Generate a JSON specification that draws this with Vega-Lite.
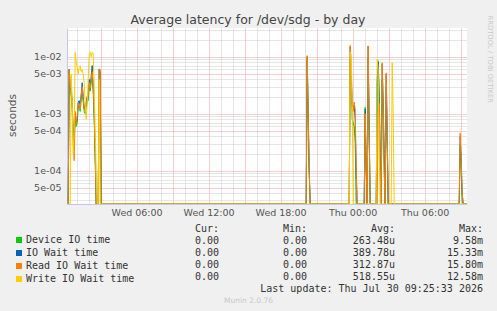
{
  "$schema": "https://vega.github.io/schema/vega-lite/v6.json",
  "width": 400,
  "height": 176,
  "autosize": "none",
  "padding": {"left": 67, "top": 28, "right": 30, "bottom": 107},
  "background": "#f0f0f0",
  "config": {
    "view": {"fill": "#ffffff", "stroke": null},
    "font": "DejaVu Sans",
    "axis": {"labelFont": "DejaVu Sans", "titleFont": "DejaVu Sans"}
  },
  "title": {
    "text": "Average latency for /dev/sdg - by day",
    "fontSize": 12.5,
    "fontWeight": "normal",
    "color": "#444444",
    "anchor": "middle",
    "dx": -19,
    "dy": 17,
    "offset": 6
  },
  "layer": [
    {
      "data": {
        "values": [
          {"t": "2026-07-29T00:12:00Z", "dev": 0, "io": 0, "rd": 0, "wr": 0},
          {"t": "2026-07-29T00:18:00Z", "dev": 0, "io": 0, "rd": 0, "wr": 0},
          {"t": "2026-07-29T00:23:00Z", "dev": 0.006, "io": 0.006, "rd": 0.006, "wr": 0},
          {"t": "2026-07-29T00:28:00Z", "dev": 0.0025, "io": 0.0028, "rd": 0.003, "wr": 0},
          {"t": "2026-07-29T00:33:00Z", "dev": 0.002, "io": 0.0025, "rd": 0.0028, "wr": 0.005},
          {"t": "2026-07-29T00:38:00Z", "dev": 0.0012, "io": 0.0015, "rd": 0.0018, "wr": 0.0015},
          {"t": "2026-07-29T00:43:00Z", "dev": 0.0005, "io": 0.0004, "rd": 0.0003, "wr": 0.0002},
          {"t": "2026-07-29T00:48:00Z", "dev": 0.0004, "io": 0.0003, "rd": 0.00015, "wr": 0.0005},
          {"t": "2026-07-29T00:53:00Z", "dev": 0.0009, "io": 0.001, "rd": 0.0011, "wr": 0.012},
          {"t": "2026-07-29T00:58:00Z", "dev": 0.0006, "io": 0.0007, "rd": 0.00065, "wr": 0.008},
          {"t": "2026-07-29T01:03:00Z", "dev": 0.0007, "io": 0.0008, "rd": 0.0009, "wr": 0.0065},
          {"t": "2026-07-29T01:08:00Z", "dev": 0.0013, "io": 0.0016, "rd": 0.0015, "wr": 0.005},
          {"t": "2026-07-29T01:13:00Z", "dev": 0.0014, "io": 0.0017, "rd": 0.0015, "wr": 0.0065},
          {"t": "2026-07-29T01:18:00Z", "dev": 0.0011, "io": 0.0013, "rd": 0.0012, "wr": 0.007},
          {"t": "2026-07-29T01:23:00Z", "dev": 0.0018, "io": 0.0022, "rd": 0.0021, "wr": 0.0055},
          {"t": "2026-07-29T01:28:00Z", "dev": 0.0025, "io": 0.0035, "rd": 0.003, "wr": 0.006},
          {"t": "2026-07-29T01:33:00Z", "dev": 0.0016, "io": 0.002, "rd": 0.0018, "wr": 0.005},
          {"t": "2026-07-29T01:38:00Z", "dev": 0.0011, "io": 0.0013, "rd": 0.0012, "wr": 0.0035},
          {"t": "2026-07-29T01:43:00Z", "dev": 0.001, "io": 0.0012, "rd": 0.0011, "wr": 0.0015},
          {"t": "2026-07-29T01:48:00Z", "dev": 0.0013, "io": 0.0016, "rd": 0.0015, "wr": 0.0008},
          {"t": "2026-07-29T01:53:00Z", "dev": 0.0016, "io": 0.002, "rd": 0.0018, "wr": 0.0015},
          {"t": "2026-07-29T01:58:00Z", "dev": 0.0017, "io": 0.0022, "rd": 0.002, "wr": 0.004},
          {"t": "2026-07-29T02:03:00Z", "dev": 0.003, "io": 0.004, "rd": 0.0035, "wr": 0.011},
          {"t": "2026-07-29T02:08:00Z", "dev": 0.0025, "io": 0.003, "rd": 0.0028, "wr": 0.012},
          {"t": "2026-07-29T02:13:00Z", "dev": 0.0035, "io": 0.0045, "rd": 0.004, "wr": 0.01},
          {"t": "2026-07-29T02:18:00Z", "dev": 0.005, "io": 0.007, "rd": 0.0055, "wr": 0.012},
          {"t": "2026-07-29T02:23:00Z", "dev": 0.0025, "io": 0.003, "rd": 0.003, "wr": 0.0115},
          {"t": "2026-07-29T02:28:00Z", "dev": 0.0008, "io": 0.001, "rd": 0.001, "wr": 0.003},
          {"t": "2026-07-29T02:33:00Z", "dev": 0.00015, "io": 0.0002, "rd": 0.0002, "wr": 0.0005},
          {"t": "2026-07-29T02:38:00Z", "dev": 0, "io": 0, "rd": 0, "wr": 0.0001},
          {"t": "2026-07-29T02:43:00Z", "dev": 0, "io": 0, "rd": 0, "wr": 0},
          {"t": "2026-07-29T02:48:00Z", "dev": 0, "io": 0, "rd": 0, "wr": 0},
          {"t": "2026-07-29T02:53:00Z", "dev": 0.006, "io": 0.006, "rd": 0.006, "wr": 0.004},
          {"t": "2026-07-29T02:58:00Z", "dev": 0.005, "io": 0.0055, "rd": 0.006, "wr": 0},
          {"t": "2026-07-29T03:03:00Z", "dev": 0, "io": 0, "rd": 0, "wr": 0},
          {"t": "2026-07-29T20:08:00Z", "dev": 0, "io": 0, "rd": 0, "wr": 0},
          {"t": "2026-07-29T20:13:00Z", "dev": 0.009, "io": 0.01, "rd": 0.0105, "wr": 0},
          {"t": "2026-07-29T20:18:00Z", "dev": 0.0008, "io": 0.001, "rd": 0.001, "wr": 0},
          {"t": "2026-07-29T20:23:00Z", "dev": 0.0001, "io": 0.0001, "rd": 0.0001, "wr": 0},
          {"t": "2026-07-29T20:28:00Z", "dev": 0, "io": 0, "rd": 0, "wr": 0},
          {"t": "2026-07-29T23:43:00Z", "dev": 0, "io": 0, "rd": 0, "wr": 0},
          {"t": "2026-07-29T23:48:00Z", "dev": 0.009, "io": 0.015, "rd": 0.0158, "wr": 0.012},
          {"t": "2026-07-29T23:53:00Z", "dev": 0.005, "io": 0.006, "rd": 0.004, "wr": 0.011},
          {"t": "2026-07-29T23:58:00Z", "dev": 0.0008, "io": 0.0015, "rd": 0.0012, "wr": 0.0015},
          {"t": "2026-07-30T00:03:00Z", "dev": 0.0007, "io": 0.0013, "rd": 0.0011, "wr": 0},
          {"t": "2026-07-30T00:08:00Z", "dev": 0.0006, "io": 0.0014, "rd": 0.0016, "wr": 0},
          {"t": "2026-07-30T00:13:00Z", "dev": 0.0003, "io": 0.0008, "rd": 0.0012, "wr": 0},
          {"t": "2026-07-30T00:18:00Z", "dev": 0, "io": 0.0001, "rd": 0.0001, "wr": 0},
          {"t": "2026-07-30T00:23:00Z", "dev": 0, "io": 0, "rd": 0, "wr": 0},
          {"t": "2026-07-30T00:58:00Z", "dev": 0, "io": 0, "rd": 0, "wr": 0},
          {"t": "2026-07-30T01:03:00Z", "dev": 0.0013, "io": 0.0012, "rd": 0.001, "wr": 0},
          {"t": "2026-07-30T01:08:00Z", "dev": 0.0001, "io": 0.0001, "rd": 0.0001, "wr": 0},
          {"t": "2026-07-30T01:13:00Z", "dev": 0, "io": 0, "rd": 0, "wr": 0},
          {"t": "2026-07-30T01:18:00Z", "dev": 0.00958, "io": 0.01533, "rd": 0.0155, "wr": 0},
          {"t": "2026-07-30T01:23:00Z", "dev": 0.0005, "io": 0.0005, "rd": 0.0004, "wr": 0},
          {"t": "2026-07-30T01:28:00Z", "dev": 0, "io": 0, "rd": 0, "wr": 0},
          {"t": "2026-07-30T01:58:00Z", "dev": 0, "io": 0, "rd": 0, "wr": 0},
          {"t": "2026-07-30T02:03:00Z", "dev": 0.003, "io": 0.004, "rd": 0, "wr": 0.0091},
          {"t": "2026-07-30T02:08:00Z", "dev": 0.0085, "io": 0.008, "rd": 0.001, "wr": 0.006},
          {"t": "2026-07-30T02:13:00Z", "dev": 0.002, "io": 0.002, "rd": 0.0015, "wr": 0.0003},
          {"t": "2026-07-30T02:18:00Z", "dev": 0.0001, "io": 0.0002, "rd": 0.0001, "wr": 0},
          {"t": "2026-07-30T02:23:00Z", "dev": 0, "io": 0, "rd": 0, "wr": 0},
          {"t": "2026-07-30T02:28:00Z", "dev": 0.004, "io": 0.0075, "rd": 0.0079, "wr": 0},
          {"t": "2026-07-30T02:33:00Z", "dev": 0.001, "io": 0.0015, "rd": 0.0015, "wr": 0},
          {"t": "2026-07-30T02:38:00Z", "dev": 0.0001, "io": 0.0002, "rd": 0.0001, "wr": 0},
          {"t": "2026-07-30T02:43:00Z", "dev": 0, "io": 0, "rd": 0, "wr": 0},
          {"t": "2026-07-30T02:48:00Z", "dev": 0.003, "io": 0.005, "rd": 0.0052, "wr": 0},
          {"t": "2026-07-30T02:53:00Z", "dev": 0.0003, "io": 0.0005, "rd": 0.0005, "wr": 0},
          {"t": "2026-07-30T02:58:00Z", "dev": 0, "io": 0, "rd": 0, "wr": 0},
          {"t": "2026-07-30T03:13:00Z", "dev": 0, "io": 0, "rd": 0, "wr": 0},
          {"t": "2026-07-30T03:18:00Z", "dev": 0, "io": 0, "rd": 0, "wr": 0.0079},
          {"t": "2026-07-30T03:23:00Z", "dev": 0, "io": 0, "rd": 0, "wr": 0.001},
          {"t": "2026-07-30T03:28:00Z", "dev": 0, "io": 0, "rd": 0, "wr": 0},
          {"t": "2026-07-30T08:53:00Z", "dev": 0, "io": 0, "rd": 0, "wr": 0},
          {"t": "2026-07-30T08:58:00Z", "dev": 0.0003, "io": 0.0004, "rd": 0.00046, "wr": 0},
          {"t": "2026-07-30T09:03:00Z", "dev": 0.0001, "io": 0.00015, "rd": 0.00015, "wr": 0},
          {"t": "2026-07-30T09:08:00Z", "dev": 0.00003, "io": 0.00004, "rd": 0.00004, "wr": 0},
          {"t": "2026-07-30T09:13:00Z", "dev": 0, "io": 0, "rd": 0, "wr": 0},
          {"t": "2026-07-30T09:32:00Z", "dev": 0, "io": 0, "rd": 0, "wr": 0}
        ]
      },
      "transform": [{"fold": ["dev", "io", "rd", "wr"], "as": ["s", "v"]}],
      "mark": {"type": "line", "strokeWidth": 1, "invalid": null, "clip": true},
      "encoding": {
        "x": {
          "field": "t",
          "type": "temporal",
          "scale": {"type": "utc", "domain": [1785283920000, 1785403920000], "nice": false},
          "axis": {
            "values": [
              {"year": 2026, "month": 7, "date": 29, "hours": 1, "utc": true},
              {"year": 2026, "month": 7, "date": 29, "hours": 2, "utc": true},
              {"year": 2026, "month": 7, "date": 29, "hours": 3, "utc": true},
              {"year": 2026, "month": 7, "date": 29, "hours": 4, "utc": true},
              {"year": 2026, "month": 7, "date": 29, "hours": 5, "utc": true},
              {"year": 2026, "month": 7, "date": 29, "hours": 6, "utc": true},
              {"year": 2026, "month": 7, "date": 29, "hours": 7, "utc": true},
              {"year": 2026, "month": 7, "date": 29, "hours": 8, "utc": true},
              {"year": 2026, "month": 7, "date": 29, "hours": 9, "utc": true},
              {"year": 2026, "month": 7, "date": 29, "hours": 10, "utc": true},
              {"year": 2026, "month": 7, "date": 29, "hours": 11, "utc": true},
              {"year": 2026, "month": 7, "date": 29, "hours": 12, "utc": true},
              {"year": 2026, "month": 7, "date": 29, "hours": 13, "utc": true},
              {"year": 2026, "month": 7, "date": 29, "hours": 14, "utc": true},
              {"year": 2026, "month": 7, "date": 29, "hours": 15, "utc": true},
              {"year": 2026, "month": 7, "date": 29, "hours": 16, "utc": true},
              {"year": 2026, "month": 7, "date": 29, "hours": 17, "utc": true},
              {"year": 2026, "month": 7, "date": 29, "hours": 18, "utc": true},
              {"year": 2026, "month": 7, "date": 29, "hours": 19, "utc": true},
              {"year": 2026, "month": 7, "date": 29, "hours": 20, "utc": true},
              {"year": 2026, "month": 7, "date": 29, "hours": 21, "utc": true},
              {"year": 2026, "month": 7, "date": 29, "hours": 22, "utc": true},
              {"year": 2026, "month": 7, "date": 29, "hours": 23, "utc": true},
              {"year": 2026, "month": 7, "date": 30, "hours": 0, "utc": true},
              {"year": 2026, "month": 7, "date": 30, "hours": 1, "utc": true},
              {"year": 2026, "month": 7, "date": 30, "hours": 2, "utc": true},
              {"year": 2026, "month": 7, "date": 30, "hours": 3, "utc": true},
              {"year": 2026, "month": 7, "date": 30, "hours": 4, "utc": true},
              {"year": 2026, "month": 7, "date": 30, "hours": 5, "utc": true},
              {"year": 2026, "month": 7, "date": 30, "hours": 6, "utc": true},
              {"year": 2026, "month": 7, "date": 30, "hours": 7, "utc": true},
              {"year": 2026, "month": 7, "date": 30, "hours": 8, "utc": true},
              {"year": 2026, "month": 7, "date": 30, "hours": 9, "utc": true}
            ],
            "labelExpr": "utchours(datum.value) % 6 == 0 ? utcFormat(datum.value, '%a %H:%M') : ''",
            "labelOverlap": false,
            "labelFlush": false,
            "labelFontSize": 9.5,
            "labelColor": "#555555",
            "labelPadding": 3,
            "ticks": false,
            "domainColor": "#c4c8e8",
            "gridColor": {"condition": {"test": "utchours(datum.value) % 3 == 0", "value": "#e6a0a0"}, "value": "#cccccc"},
            "gridDash": [1, 1],
            "title": "Munin 2.0.76",
            "titleX": 181,
            "titleY": 96,
            "titleBaseline": "middle",
            "titleFontSize": 7.5,
            "titleFontWeight": "normal",
            "titleColor": "#c8c8c8"
          }
        },
        "y": {
          "field": "v",
          "type": "quantitative",
          "scale": {"type": "log", "domain": [0.000026, 0.032], "clamp": true, "nice": false},
          "axis": {
            "values": [0.00003, 0.00004, 0.00005, 0.00006, 0.00007, 0.00008, 0.00009, 0.0001, 0.0002, 0.0003, 0.0004, 0.0005, 0.0006, 0.0007, 0.0008, 0.0009, 0.001, 0.002, 0.003, 0.004, 0.005, 0.006, 0.007, 0.008, 0.009, 0.01, 0.02, 0.03],
            "labelExpr": "test(regexp('^[15]e'), format(datum.value, '.0e')) ? replace(format(datum.value, '.0e'), 'e-', 'e-0') : ''",
            "labelOverlap": false,
            "labelFlush": false,
            "labelFontSize": 9.5,
            "labelColor": "#555555",
            "labelPadding": 6,
            "ticks": false,
            "domainColor": "#c4c8e8",
            "gridColor": {"condition": {"test": "test(regexp('^[15]e'), format(datum.value, '.0e'))", "value": "#e6a0a0"}, "value": "#cccccc"},
            "gridDash": [1, 1],
            "title": "seconds",
            "titleX": -52,
            "titleY": 87,
            "titleBaseline": "alphabetic",
            "titleFontSize": 10.5,
            "titleFontWeight": "normal",
            "titleColor": "#555555"
          }
        },
        "color": {
          "field": "s",
          "type": "nominal",
          "scale": {"domain": ["dev", "io", "rd", "wr"], "range": ["#00cc00", "#0066b3", "#ff8000", "#ffcc00"]},
          "legend": {
            "orient": "none",
            "legendX": -53,
            "legendY": 207,
            "title": null,
            "direction": "vertical",
            "padding": 0,
            "symbolType": "square",
            "symbolSize": 9,
            "symbolStrokeWidth": 3,
            "rowPadding": -4,
            "labelOffset": 2,
            "labelFont": "DejaVu Sans Mono",
            "labelFontSize": 10,
            "labelColor": "#333333",
            "labelExpr": "datum.label == 'dev' ? 'Device IO time' : datum.label == 'io' ? 'IO Wait time' : datum.label == 'rd' ? 'Read IO Wait time' : 'Write IO Wait time'"
          }
        }
      }
    },
    {
      "data": {
        "values": [
          {"r": "h", "c": "Cur", "txt": "Cur:\u00a0"},
          {"r": "h", "c": "Min", "txt": "Min:\u00a0"},
          {"r": "h", "c": "Avg", "txt": "Avg:\u00a0\u00a0"},
          {"r": "h", "c": "Max", "txt": "Max:\u00a0\u00a0"},
          {"r": "dev", "c": "Cur", "txt": "0.00"},
          {"r": "dev", "c": "Min", "txt": "0.00"},
          {"r": "dev", "c": "Avg", "txt": "263.48u"},
          {"r": "dev", "c": "Max", "txt": "9.58m"},
          {"r": "io", "c": "Cur", "txt": "0.00"},
          {"r": "io", "c": "Min", "txt": "0.00"},
          {"r": "io", "c": "Avg", "txt": "389.78u"},
          {"r": "io", "c": "Max", "txt": "15.33m"},
          {"r": "rd", "c": "Cur", "txt": "0.00"},
          {"r": "rd", "c": "Min", "txt": "0.00"},
          {"r": "rd", "c": "Avg", "txt": "312.87u"},
          {"r": "rd", "c": "Max", "txt": "15.80m"},
          {"r": "wr", "c": "Cur", "txt": "0.00"},
          {"r": "wr", "c": "Min", "txt": "0.00"},
          {"r": "wr", "c": "Avg", "txt": "518.55u"},
          {"r": "wr", "c": "Max", "txt": "12.58m"},
          {"r": "upd", "c": "Max", "txt": "Last update: Thu Jul 30 09:25:33 2026"}
        ]
      },
      "mark": {"type": "text", "font": "DejaVu Sans Mono", "fontSize": 10, "align": "right", "baseline": "middle", "color": "#333333"},
      "encoding": {
        "x": {"field": "c", "type": "nominal", "scale": {"type": "point", "domain": ["Cur", "Min", "Avg", "Max"], "range": [152, 416], "padding": 0}, "axis": null},
        "y": {
          "field": "r",
          "type": "nominal",
          "scale": {"type": "point", "domain": ["h", "dev", "io", "rd", "wr", "upd"], "range": [201, 261.2], "padding": 0},
          "axis": {
            "orient": "right",
            "labels": false,
            "ticks": false,
            "domain": false,
            "grid": false,
            "title": "RRDTOOL / TOBI OETIKER",
            "titleAngle": 90,
            "titleX": 20.5,
            "titleY": -13,
            "titleAlign": "left",
            "titleBaseline": "alphabetic",
            "titleFontSize": 6.8,
            "titleFontWeight": "normal",
            "titleColor": "#c8c8c8"
          }
        },
        "text": {"field": "txt"}
      }
    }
  ],
  "resolve": {"scale": {"x": "independent", "y": "independent"}, "axis": {"x": "independent", "y": "independent"}}
}
